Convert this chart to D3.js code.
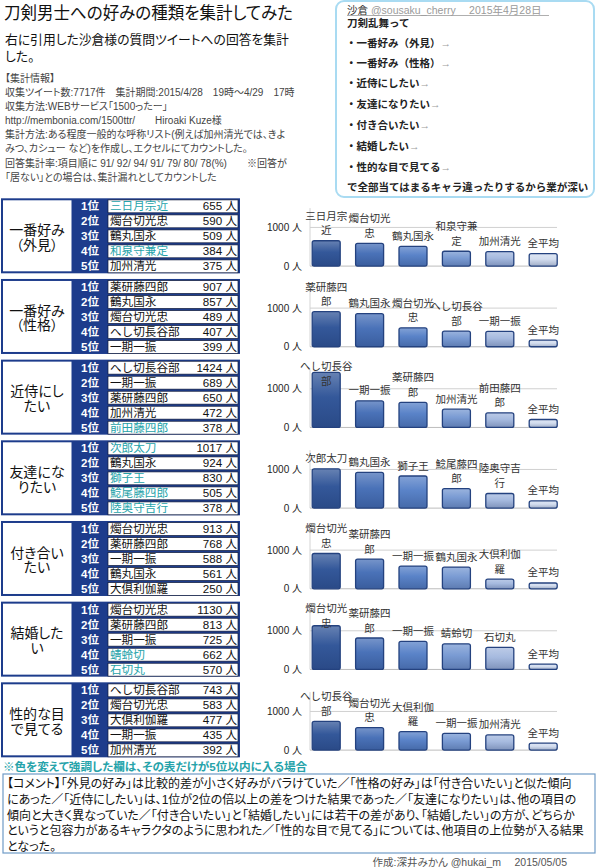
<!DOCTYPE html>
<html><head><meta charset="utf-8">
<script src="https://cdn.jsdelivr.net/npm/d3@7"></script>
<style>
body{margin:0;background:#fff;}
svg{display:block;font-family:'Liberation Sans','Noto Sans CJK JP',sans-serif;font-feature-settings:"palt";}
.np{font-feature-settings:normal;}
</style></head><body>
<svg id="c" width="600" height="868"></svg>
<script>
// ---------- data ----------
const titleText = "刀剣男士への好みの種類を集計してみた";
const subtitleLines = ["右に引用した沙倉様の質問ツイートへの回答を集計", "した。"];
const infoLines = [
  "【集計情報】",
  "収集ツイート数:7717件　集計期間:2015/4/28　19時～4/29　17時",
  "収集方法:WEBサービス「1500ったー」",
  "http://membonia.com/1500ttr/　　Hiroaki Kuze様",
  "集計方法:ある程度一般的な呼称リスト(例えば加州清光では、きよ",
  "みつ、カシュー など)を作成し、エクセルにてカウントした。",
  "回答集計率:項目順に 91/ 92/ 94/ 91/ 79/ 80/ 78(%)　　※回答が",
  "「居ない」との場合は、集計漏れとしてカウントした"
];
const tweetAuthor = "沙倉";
const tweetMeta = " @sousaku_cherry　 2015年4月28日";
const tweetIntro = "刀剣乱舞って";
const tweetItems = ["・一番好み（外見）", "・一番好み（性格）", "・近侍にしたい", "・友達になりたい", "・付き合いたい", "・結婚したい", "・性的な目で見てる"];
const tweetOutro = "で全部当てはまるキャラ違ったりするから業が深い";

const sectionLabels = [
  ["一番好み", "（外見）"], ["一番好み", "（性格）"], ["近侍にし", "たい"],
  ["友達にな", "りたい"], ["付き合い", "たい"], ["結婚した", "い"], ["性的な目", "で見てる"]
];
const rankLabels = ["1位", "2位", "3位", "4位", "5位"];
const names = [
  ["三日月宗近", "燭台切光忠", "鶴丸国永", "和泉守兼定", "加州清光"],
  ["薬研藤四郎", "鶴丸国永", "燭台切光忠", "へし切長谷部", "一期一振"],
  ["へし切長谷部", "一期一振", "薬研藤四郎", "加州清光", "前田藤四郎"],
  ["次郎太刀", "鶴丸国永", "獅子王", "鯰尾藤四郎", "陸奥守吉行"],
  ["燭台切光忠", "薬研藤四郎", "一期一振", "鶴丸国永", "大倶利伽羅"],
  ["燭台切光忠", "薬研藤四郎", "一期一振", "蜻蛉切", "石切丸"],
  ["へし切長谷部", "燭台切光忠", "大倶利伽羅", "一期一振", "加州清光"]
];
const counts = [
  [655, 590, 509, 384, 375],
  [907, 857, 489, 407, 399],
  [1424, 689, 650, 472, 378],
  [1017, 924, 830, 505, 378],
  [913, 768, 588, 561, 250],
  [1130, 813, 725, 662, 570],
  [743, 583, 477, 435, 392]
];
const highlighted = [
  ["三日月宗近", "和泉守兼定"], [], ["前田藤四郎"],
  ["次郎太刀", "獅子王", "鯰尾藤四郎", "陸奥守吉行"], [], ["蜻蛉切", "石切丸"], []
];
const averageLabel = "全平均";
const averages = [325, 170, 205, 185, 150, 140, 180];
const yTicks = [0, 1000];
const unit = "人";

const noteText = "※色を変えて強調した欄は、その表だけが5位以内に入る場合";
const commentLines = [
  "【コメント】「外見の好み」は比較的差が小さく好みがバラけていた／「性格の好み」は「付き合いたい」と似た傾向",
  "にあった／「近侍にしたい」は、1位が2位の倍以上の差をつけた結果であった／「友達になりたい」は、他の項目の",
  "傾向と大きく異なっていた／「付き合いたい」と「結婚したい」には若干の差があり、「結婚したい」の方が、どちらか",
  "というと包容力があるキャラクタのように思われた／「性的な目で見てる」については、他項目の上位勢が入る結果",
  "となった。"
];
const creditText = "作成:深井みかん @hukai_m　 2015/05/05";

// ---------- drawing ----------
const svg = d3.select("#c");
const NAVY = "#1d3c8c", TEAL = "#26a3aa";
const barColors = ["#34589a", "#4a72b8", "#5a83c8", "#7a9bd3", "#a6badf", "#d3ddef"];

function fitText(sel, maxW) {
  sel.each(function () {
    const w = this.getComputedTextLength();
    if (w > maxW) d3.select(this).attr("textLength", maxW).attr("lengthAdjust", "spacingAndGlyphs");
  });
}

// title
svg.append("text").attr("x", 4).attr("y", 19).attr("font-size", 16.5).attr("fill", "#111").text(titleText);
svg.selectAll("text.sub").data(subtitleLines).join("text").attr("class", "sub")
  .attr("x", 5).attr("y", (d, i) => 44 + i * 16.6).attr("font-size", 12.8).attr("fill", "#111").text(d => d);
svg.selectAll("text.info").data(infoLines).join("text").attr("class", "info")
  .attr("x", 5).attr("y", (d, i) => 82.2 + i * 14.05).attr("font-size", 10).attr("fill", "#444").text(d => d)
  .call(fitText, 312);

// tweet box
svg.append("rect").attr("x", 336).attr("y", 1).attr("width", 258).attr("height", 196).attr("rx", 8)
  .attr("fill", "#fff").attr("stroke", "#a9dbf2").attr("stroke-width", 2);
const th = svg.append("text").attr("x", 347).attr("y", 13.5).attr("font-size", 10.5);
th.append("tspan").attr("fill", "#333").text(tweetAuthor);
th.append("tspan").attr("fill", "#9a9a9a").text(tweetMeta);
svg.append("line").attr("x1", 347).attr("x2", 549).attr("y1", 15.5).attr("y2", 15.5).attr("stroke", "#9a9a9a").attr("stroke-width", 0.8);
svg.append("text").attr("class", "np").attr("x", 347).attr("y", 27).attr("font-size", 10.5).attr("font-weight", "bold").attr("fill", "#222").text(tweetIntro);
const tweetY = [47, 67, 87, 108, 129, 150, 171];
tweetItems.forEach((t, i) => {
  const tx = svg.append("text").attr("class", "np").attr("x", 346).attr("y", tweetY[i]).attr("font-size", 10.5).attr("font-weight", "bold").attr("fill", "#222");
  tx.append("tspan").text(t);
  tx.append("tspan").attr("fill", "#9a9a9a").attr("font-weight", "normal").text("→");
});
svg.append("text").attr("class", "np").attr("x", 347).attr("y", 191).attr("font-size", 10.5).attr("font-weight", "bold").attr("fill", "#222").text(tweetOutro)
  .call(fitText, 244);

// gradients
const defs = svg.append("defs");
barColors.forEach((c, i) => {
  const g = defs.append("linearGradient").attr("id", "g" + i).attr("x1", 0).attr("x2", 0).attr("y1", 0).attr("y2", 1);
  g.append("stop").attr("offset", "0%").attr("stop-color", d3.interpolateRgb(c, "#fff")(0.25));
  g.append("stop").attr("offset", "45%").attr("stop-color", c);
  g.append("stop").attr("offset", "100%").attr("stop-color", d3.interpolateRgb(c, "#0b1f4d")(0.25));
});

const SEC_TOP = 198.3, SEC_PITCH = 80.67, SEC_H = 75, ROW = 15;
const x = d3.scaleBand().domain(d3.range(6)).range([304.5, 564.9]).padding(0);
const barW = 28;

sectionLabels.forEach((lab, s) => {
  const top = SEC_TOP + s * SEC_PITCH;
  const g = svg.append("g");
  g.append("rect").attr("x", 1).attr("y", top).attr("width", 239).attr("height", SEC_H).attr("fill", NAVY);
  g.append("rect").attr("x", 3).attr("y", top + 2).attr("width", 68.5).attr("height", SEC_H - 4).attr("fill", "#fff");
  lab.forEach((l, k) => g.append("text").attr("x", 37).attr("y", top + 36.8 + k * 14.5)
    .attr("text-anchor", "middle").attr("font-size", 14).attr("fill", "#111").text(l));
  names[s].forEach((n, r) => {
    const ry = top + 1.6 + r * ROW;
    g.append("rect").attr("x", 108).attr("y", ry).attr("width", 130).attr("height", 12.9)
      .attr("fill", "#fff").attr("stroke", "#101a3a").attr("stroke-width", 0.7);
    const cy = ry + 6.45;
    g.append("text").attr("x", 90).attr("y", cy + 4).attr("text-anchor", "middle").attr("font-size", 11.5)
      .attr("font-weight", "bold").attr("fill", "#fff").text(rankLabels[r]);
    g.append("text").attr("class", "np").attr("x", 110).attr("y", cy + 4.1).attr("font-size", 11.6)
      .attr("fill", highlighted[s].includes(n) ? TEAL : "#111").text(n);
    g.append("text").attr("x", 237).attr("y", cy + 4.1).attr("text-anchor", "end").attr("font-size", 11.6)
      .attr("fill", "#111").text(counts[s][r] + " " + unit);
  });

  // chart
  const base = top + 67.8;
  const y = d3.scaleLinear().domain([0, 1500]).range([base, base - 58]);
  const plotTop = y(1500);
  g.append("line").attr("x1", 310).attr("x2", 310).attr("y1", plotTop).attr("y2", base).attr("stroke", "#d4d4d4");
  yTicks.forEach(t => {
    g.append("line").attr("x1", 310).attr("x2", 557).attr("y1", y(t)).attr("y2", y(t))
      .attr("stroke", t === 0 ? "#bdbdbd" : "#d0d0d0").attr("stroke-width", 1);
    g.append("text").attr("x", 302).attr("y", y(t) + 3.6).attr("text-anchor", "end").attr("font-size", 10)
      .attr("fill", "#222").text(t + " " + unit);
  });
  const cats = names[s].concat([averageLabel]);
  const vals = counts[s].concat([averages[s]]);
  cats.forEach((c, i) => {
    const bx = x(i) + (x.bandwidth() - barW) / 2;
    g.append("rect").attr("x", bx).attr("y", y(vals[i])).attr("width", barW).attr("height", base - y(vals[i]))
      .attr("rx", 2).attr("fill", `url(#g${i})`).attr("stroke", "#24427f").attr("stroke-width", 1.3);
    const lines = c.length > 4 ? [c.slice(0, -1), c.slice(-1)] : [c];
    let last = y(vals[i]) - 10.5;
    let first = last - (lines.length - 1) * 14.5;
    if (first < plotTop - 3) { const sh = plotTop - 3 - first; first += sh; last += sh; }
    lines.forEach((l, k) => g.append("text").attr("class", "np").attr("x", bx + barW / 2).attr("y", first + k * 14.5 + 4)
      .attr("text-anchor", "middle").attr("font-size", 10.5).attr("fill", "#333").text(l));
  });
});

// note
svg.append("text").attr("x", 3).attr("y", 771).attr("font-size", 11.6).attr("font-weight", "bold").attr("fill", TEAL).text(noteText);

// comment box
svg.append("rect").attr("x", 3).attr("y", 774).attr("width", 592).attr("height", 79).attr("fill", "#fff")
  .attr("stroke", "#6f9bc6").attr("stroke-width", 1.2);
svg.selectAll("text.cm").data(commentLines).join("text").attr("class", "cm")
  .attr("x", 7).attr("y", (d, i) => 788 + i * 15.8).attr("font-size", 12).attr("fill", "#111").text(d => d)
  .call(fitText, 580);
svg.append("text").attr("x", 567).attr("y", 865.5).attr("text-anchor", "end").attr("font-size", 10.5)
  .attr("fill", "#555").text(creditText);
</script>
</body></html>
